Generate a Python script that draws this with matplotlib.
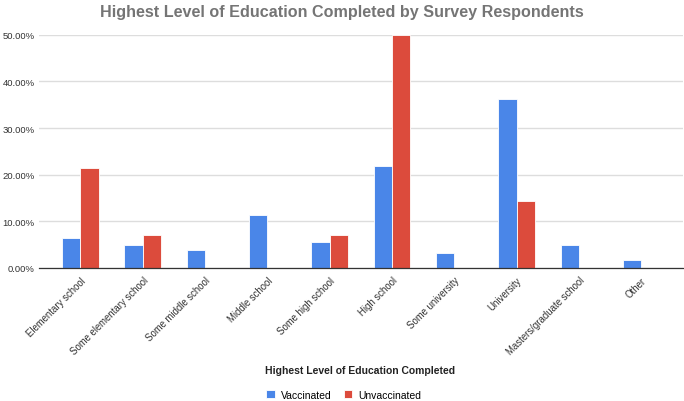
import matplotlib.pyplot as plt
import numpy as np

plt.rcParams['font.family'] = ['Liberation Sans', 'DejaVu Sans']

categories = ['Elementary school', 'Some elementary school', 'Some middle school',
              'Middle school', 'Some high school', 'High school', 'Some university',
              'University', 'Masters/graduate school', 'Other']
vaccinated = [6.45, 4.84, 3.9, 11.3, 5.65, 21.8, 3.2, 36.3, 4.84, 1.6]
unvaccinated = [21.43, 7.14, 0, 0, 7.14, 50.0, 0, 14.29, 0, 0]
y_ticks = [0, 10, 20, 30, 40, 50]

blue = '#4a86e8'
red = '#dc4b3c'

fig = plt.figure(figsize=(6.84, 4.02), dpi=100)
ax = fig.add_axes([0.057, 0.331, 0.9415, 0.58])

x = np.arange(len(categories))
w = 0.295
ax.bar(x - w / 2, vaccinated, w, color=blue, edgecolor='white', linewidth=0.6,
       label='Vaccinated', zorder=3)
ax.bar(x + w / 2, unvaccinated, w, color=red, edgecolor='white', linewidth=0.6,
       label='Unvaccinated', zorder=3)

ax.set_xlim(-0.666, 9.67)
ax.set_ylim(0, 50)
ax.set_yticks(y_ticks)
ax.set_yticklabels([f'{v:.2f}%' for v in y_ticks], fontsize=6.8, color='#333333')
ax.set_xticks(x)
ax.set_xticklabels(categories, rotation=45, ha='right', rotation_mode='anchor',
                   fontsize=6.9, color='#333333')
ax.tick_params(axis='both', length=0)
ax.tick_params(axis='y', pad=3)
ax.tick_params(axis='x', pad=5)

ax.grid(axis='y', color='#dddddd', linewidth=1, zorder=0)
for side in ['top', 'right', 'left']:
    ax.spines[side].set_visible(False)
ax.spines['bottom'].set_color('#333333')
ax.spines['bottom'].set_linewidth(0.9)
ax.spines['bottom'].set_zorder(4)

fig.text(0.5, 1 - 12 / 402, 'Highest Level of Education Completed by Survey Respondents',
         ha='center', va='center', fontsize=11.6, fontweight='bold', color='#757575')
fig.text(360 / 684, 1 - 371 / 402, 'Highest Level of Education Completed',
         ha='center', va='center', fontsize=7.5, fontweight='bold', color='#222222')

fig.legend(loc='center', bbox_to_anchor=(344 / 684, 1 - 396 / 402), ncol=2,
           frameon=False, fontsize=7.5, handlelength=0.8, handleheight=0.8,
           handletextpad=0.6, columnspacing=1.2)

fig.savefig('out.png', dpi=100)
